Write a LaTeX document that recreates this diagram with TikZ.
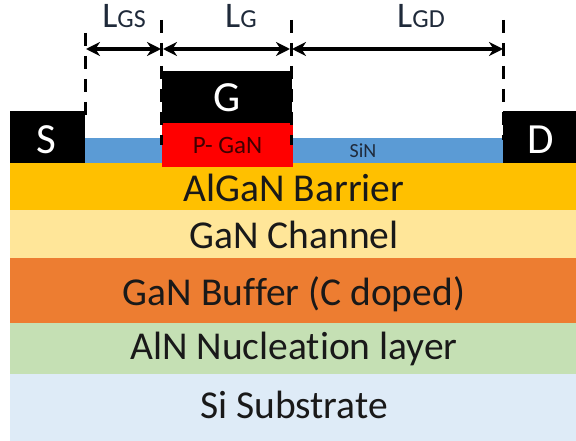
\documentclass[tikz,border=0pt]{standalone}
\usepackage{fontspec}
\setmainfont[Ligatures=NoCommon]{Carlito}
\usetikzlibrary{arrows.meta}
\definecolor{barrier}{HTML}{FFC000}
\definecolor{channel}{HTML}{FFE699}
\definecolor{buffer}{HTML}{ED7D31}
\definecolor{nucl}{HTML}{C5E0B4}
\definecolor{subs}{HTML}{DEEBF7}
\definecolor{sinc}{HTML}{5B9BD5}
\definecolor{ltxt}{HTML}{1F2A3A}
\tikzset{
  layer/.style={minimum width=566pt,inner sep=0pt,outer sep=0pt,anchor=north west},
  layertext/.style={inner sep=0pt,font=\fontsize{39.5}{40}\selectfont,text=black!90},
  contact/.style={fill=black,text=white,inner sep=0pt,outer sep=0pt,anchor=north west,font=\fontsize{43}{43}\selectfont},
  guide/.style={line width=3pt,dash pattern=on 13pt off 10pt},
  dim/.style={line width=3.2pt,{Stealth[length=14pt,width=14pt]}-{Stealth[length=14pt,width=14pt]}},
  dimlabel/.style={font=\fontsize{36}{36}\selectfont,text=ltxt,inner sep=0pt,anchor=base},
}
\begin{document}
\begin{tikzpicture}[x=1pt,y=-1pt]
\useasboundingbox (0,0) rectangle (576,441);
% layers
\node[layer,fill=subs,minimum height=67pt] (si) at (10,374) {};
\node[layer,fill=nucl,minimum height=51pt] (aln) at (10,323) {};
\node[layer,fill=buffer,minimum height=65pt] (buf) at (10,258) {};
\node[layer,fill=channel,minimum height=48pt] (chan) at (10,210) {};
\node[layer,fill=barrier,minimum height=47pt] (bar) at (10,163) {};
\node[layertext] (sit) at (294,405) {Si Substrate};
\node[layertext] (alnt) at (294,349) {AlN Nucleation layer};
\node[layertext] (buft) at (294,294) {GaN Buffer (C doped)};
\node[layertext] (chant) at (294,235) {GaN Channel};
\node[layertext] (bart) at (294,188) {AlGaN Barrier};
% SiN
\node[fill=sinc,inner sep=0pt,outer sep=0pt,anchor=north west,minimum width=418pt,minimum height=25pt] (sin) at (85,138) {};
\node[inner sep=0pt,font=\fontsize{20}{20}\selectfont,text=ltxt] (sintxt) at (363,151) {SiN};
% contacts
\node[contact,minimum width=75pt,minimum height=52pt] (s) at (10,111) {};
\node[text=white,font=\fontsize{43}{43}\selectfont,inner sep=0pt] (stxt) at (46,140) {S};
\node[contact,minimum width=73pt,minimum height=52pt] (d) at (503,111) {};
\node[text=white,font=\fontsize{43}{43}\selectfont,inner sep=0pt] (dtxt) at (541,140) {D};
\node[contact,minimum width=130pt,minimum height=53pt] (g) at (162,71) {G};
\node[fill=red,inner sep=0pt,outer sep=0pt,anchor=north west,minimum width=131pt,minimum height=44pt,font=\fontsize{25}{25}\selectfont,text=black!75!red] (p) at (162,123) {P- GaN};
% guides
\coordinate (gs0) at (85,33); \coordinate (gs1) at (85,117);
\coordinate (g0) at (161,20); \coordinate (g1) at (161,145);
\coordinate (gg0) at (291,20); \coordinate (gg1) at (291,145);
\coordinate (gd0) at (503,20); \coordinate (gd1) at (503,140);
\draw[guide] (gs0) -- (gs1);
\draw[guide] (g0) -- (g1);
\draw[guide] (gg0) -- (gg1);
\draw[guide] (gd0) -- (gd1);
% dimensions
\coordinate (a) at (86,49); \coordinate (b) at (161,49); \coordinate (c) at (163,49);
\coordinate (e) at (290,49); \coordinate (f) at (292,49); \coordinate (h) at (503,49);
\draw[dim] (a) -- (b);
\draw[dim] (c) -- (e);
\draw[dim] (f) -- (h);
\node[dimlabel] (lgs) at (124,28) {L{\fontsize{26}{26}\selectfont GS}};
\node[dimlabel] (lg) at (241,28) {L{\fontsize{26}{26}\selectfont G}};
\node[dimlabel] (lgd) at (421,28) {L{\fontsize{26}{26}\selectfont GD}};
\end{tikzpicture}
\end{document}
